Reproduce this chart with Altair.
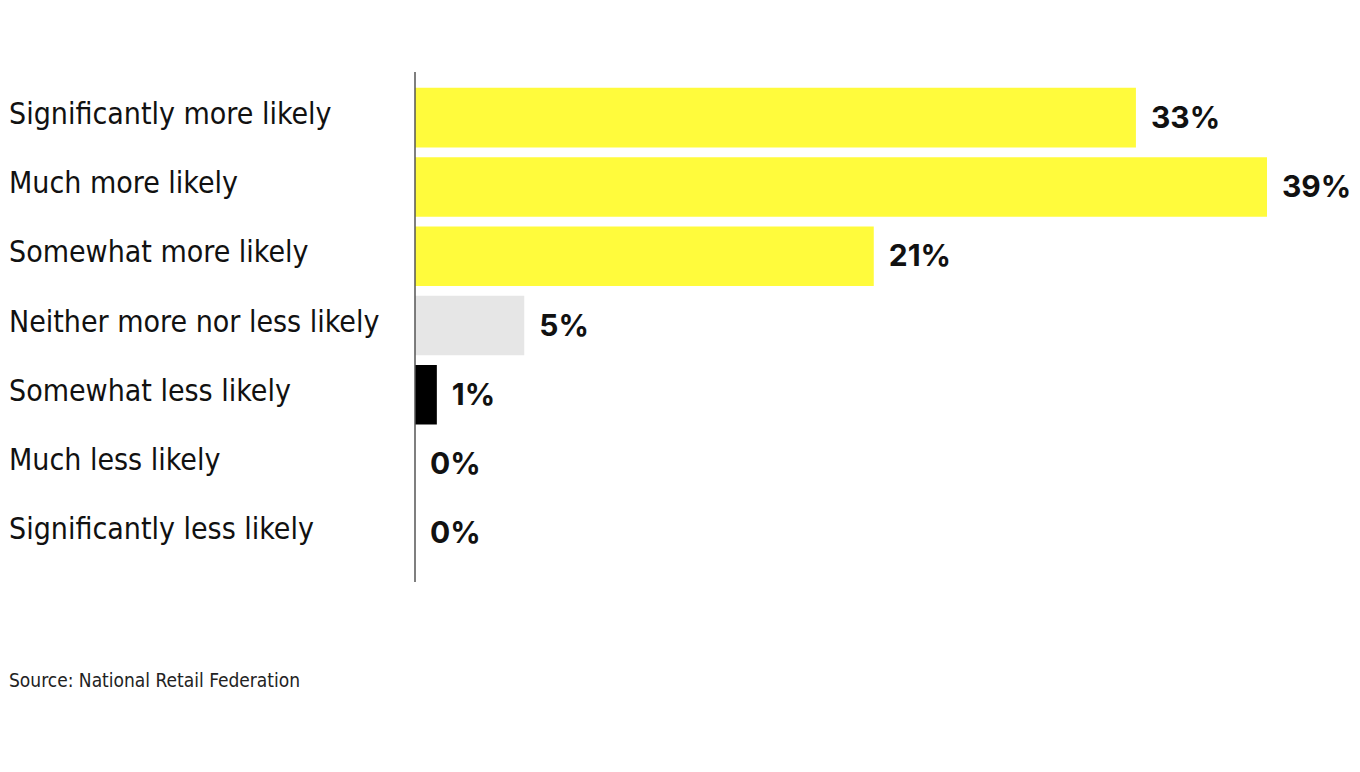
import altair as alt
import pandas as pd

categories = [
    "Significantly more likely",
    "Much more likely",
    "Somewhat more likely",
    "Neither more nor less likely",
    "Somewhat less likely",
    "Much less likely",
    "Significantly less likely",
]
values = [33, 39, 21, 5, 1, 0, 0]
colors = ["#FFFB3C", "#FFFB3C", "#FFFB3C", "#E6E6E6", "#000000", "#000000", "#000000"]

df = pd.DataFrame({
    "cat": categories,
    "val": values,
    "color": colors,
    "label": [f"{v}%" for v in values],
})

yscale = alt.Scale(domain=categories, paddingInner=0.14, paddingOuter=0.07)
xscale = alt.Scale(domain=[0, 39], nice=False, zero=True)

base = alt.Chart(df)

bars = base.mark_bar().encode(
    y=alt.Y("cat:N", scale=yscale, sort=categories, axis=None),
    x=alt.X("val:Q", scale=xscale, axis=None),
    color=alt.Color("color:N", scale=None, legend=None),
)

vals = base.mark_text(
    align="left", baseline="middle", dx=15, dy=1,
    font="Inter", fontWeight="bold", fontSize=30, color="#111111",
).encode(
    y=alt.Y("cat:N", scale=yscale, sort=categories),
    x=alt.X("val:Q", scale=xscale),
    text="label:N",
)

cats = base.mark_text(
    align="left", baseline="middle", dy=-3,
    font="Liberation Sans Narrow, DejaVu Sans Condensed, Roboto",
    fontSize=30, color="#111111",
).encode(
    y=alt.Y("cat:N", scale=yscale, sort=categories),
    x=alt.value(-406),
    text="cat:N",
)

axis_line = alt.Chart(pd.DataFrame({"a": [0]})).mark_rule(
    color="#555555", strokeWidth=1.5
).encode(x=alt.value(0), y=alt.value(-11), y2=alt.value(499))

source = alt.Chart(pd.DataFrame({"t": ["Source: National Retail Federation"]})).mark_text(
    align="left", baseline="middle", font="Liberation Sans Narrow, DejaVu Sans Condensed, Roboto",
    fontSize=19, color="#222222",
).encode(x=alt.value(-406), y=alt.value(598), text="t:N")

chart = alt.layer(bars, axis_line, vals, cats, source).properties(
    width=852, height=485,
    padding={"left": 407, "top": 75, "right": 85, "bottom": 170},
    autosize=alt.AutoSizeParams(type="none"),
).configure_view(stroke=None)

chart.save("out.html", embed_options={"renderer": "svg", "actions": False})
